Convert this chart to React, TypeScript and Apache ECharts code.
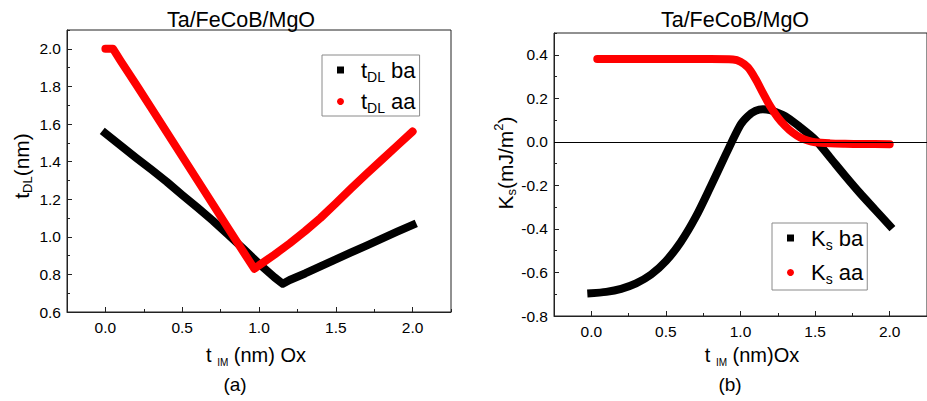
import React, { useEffect, useRef } from 'react';
import * as echarts from 'echarts';

const FONT = '"Liberation Sans", Arial, Helvetica, sans-serif';

// ---------- Panel (a): t_DL vs t_IM ----------
const tdlBaX = [0, 0.1, 0.2, 0.3, 0.4, 0.5, 0.6, 0.7, 0.8, 0.9, 1.0, 1.1, 1.155, 1.2, 1.3, 1.4, 1.5, 1.6, 1.7, 1.8, 1.9, 2.0];
const tdlBaY = [1.55, 1.485, 1.42, 1.357, 1.292, 1.222, 1.155, 1.085, 1.01, 0.935, 0.857, 0.785, 0.75, 0.77, 0.805, 0.843, 0.88, 0.917, 0.953, 0.99, 1.027, 1.063];

const tdlAaX = [0, 0.05, 0.1, 0.2, 0.3, 0.4, 0.5, 0.6, 0.7, 0.8, 0.9, 0.97, 1.0, 1.1, 1.2, 1.3, 1.4, 1.5, 1.6, 1.7, 1.8, 1.9, 2.0];
const tdlAaY = [2.0, 2.0, 1.935, 1.81, 1.683, 1.555, 1.428, 1.3, 1.172, 1.045, 0.918, 0.83, 0.848, 0.905, 0.965, 1.03, 1.1, 1.178, 1.258, 1.335, 1.41, 1.485, 1.56];

// ---------- Panel (b): K_s vs t_IM ----------
const ksBaX = [0, 0.1, 0.2, 0.3, 0.4, 0.5, 0.6, 0.7, 0.8, 0.9, 1.0, 1.05, 1.1, 1.15, 1.2, 1.3, 1.4, 1.5, 1.6, 1.7, 1.8, 1.9, 2.0];
const ksBaY = [-0.695, -0.689, -0.675, -0.65, -0.61, -0.548, -0.46, -0.345, -0.205, -0.06, 0.078, 0.118, 0.142, 0.15, 0.145, 0.118, 0.067, 0.01, -0.072, -0.155, -0.235, -0.31, -0.385];

const ksAaX = [0.04, 0.2, 0.4, 0.6, 0.8, 0.95, 1.0, 1.05, 1.1, 1.15, 1.2, 1.25, 1.3, 1.35, 1.4, 1.45, 1.5, 1.6, 1.7, 1.8, 1.9, 2.0];
const ksAaY = [0.38, 0.38, 0.38, 0.38, 0.38, 0.378, 0.368, 0.342, 0.29, 0.225, 0.163, 0.112, 0.073, 0.042, 0.02, 0.006, -0.002, -0.007, -0.009, -0.01, -0.01, -0.011];

const seriesNames = { tBa: 'tDL ba', tAa: 'tDL aa', kBa: 'Ks ba', kAa: 'Ks aa' };
const titleText = 'Ta/FeCoB/MgO';
const panelLabels = ['(a)', '(b)'];

const zip = (xs: number[], ys: number[]) => xs.map((x, i) => [x, ys[i]]);

const richStyles = (size: number, subSize: number) => ({
  m: { fontSize: size, fontFamily: FONT, color: '#000', fill: '#000', lineHeight: size + 5 },
  s: { fontSize: subSize, fontFamily: FONT, color: '#000', fill: '#000', lineHeight: subSize, verticalAlign: 'bottom' },
  p: { fontSize: subSize, fontFamily: FONT, color: '#000', fill: '#000', lineHeight: subSize, verticalAlign: 'top' },
});

const axisColor = '#222';
const fmt1 = (v: number) => v.toFixed(1);

function majorX(grid: number) {
  return {
    type: 'value', gridIndex: grid, min: -0.25, max: 2.25, splitNumber: 5, position: 'bottom',
    axisLine: { onZero: false, lineStyle: { color: axisColor, width: 1 } },
    axisTick: { inside: true, length: 5, lineStyle: { color: axisColor } },
    axisLabel: { showMinLabel: false, showMaxLabel: false, formatter: fmt1, fontSize: 15.5, fontFamily: FONT, color: '#000', margin: 7 },
    splitLine: { show: false },
  };
}
function minorX(grid: number) {
  return {
    type: 'value', gridIndex: grid, min: -0.25, max: 2.25, interval: 0.25, position: 'bottom',
    axisLine: { show: false, onZero: false },
    axisTick: { inside: true, length: 3, lineStyle: { color: axisColor } },
    axisLabel: { show: false },
    splitLine: { show: false },
  };
}
function majorY(grid: number, min: number, max: number) {
  return {
    type: 'value', gridIndex: grid, min, max, interval: 0.2, position: 'left',
    axisLine: { show: true, onZero: false, lineStyle: { color: axisColor, width: 1 } },
    axisTick: { show: true, inside: true, length: 5, lineStyle: { color: axisColor } },
    axisLabel: { showMaxLabel: false, formatter: fmt1, fontSize: 15.5, fontFamily: FONT, color: '#000', margin: 6 },
    splitLine: { show: false },
  };
}
function minorY(grid: number, min: number, max: number) {
  return {
    type: 'value', gridIndex: grid, min, max, interval: 0.1, position: 'left',
    axisLine: { show: false, onZero: false },
    axisTick: { show: true, inside: true, length: 3, lineStyle: { color: axisColor } },
    axisLabel: { show: false },
    splitLine: { show: false },
  };
}

const legendFormatter = (name: string) => {
  const [a, b] = name.split(' ');
  return `{m|${a[0]}}{s|${a.slice(1)}}{m| ${b}}`;
};

function legendAt(left: number, top: number, names: string[], gap: number, pad: number[]) {
  return {
    show: true, orient: 'vertical', left, top, selectedMode: false,
    data: [{ name: names[0], icon: 'rect' }, { name: names[1], icon: 'circle' }],
    itemWidth: 7, itemHeight: 7, itemGap: gap,
    padding: pad, borderColor: '#8a8a8a', borderWidth: 1, backgroundColor: '#fff',
    formatter: legendFormatter,
    textStyle: { padding: [0, 0, 0, 12], rich: richStyles(22, 14) },
  };
}

function lineSeries(name: string, data: number[][], color: string, xi: number, yi: number, cap: string, smooth: boolean | number) {
  return {
    type: 'line', name, data, xAxisIndex: xi, yAxisIndex: yi, color,
    showSymbol: false, symbol: 'none', smooth,
    lineStyle: { color, width: 8, cap, join: 'round' },
    z: 3,
  };
}

export default function App() {
  const ref = useRef<HTMLDivElement>(null);
  useEffect(() => {
    if (!ref.current) return;
    const chart = echarts.init(ref.current, undefined, { renderer: 'svg' });
    const option = {
      animation: false,
      backgroundColor: '#fff',
      grid: [
        { left: 67, top: 30, width: 384, height: 282, show: true, borderColor: axisColor, borderWidth: 1, backgroundColor: 'transparent' },
        { left: 554, top: 33, width: 385, height: 283, show: true, borderColor: axisColor, borderWidth: 1, backgroundColor: 'transparent' },
      ],
      xAxis: [majorX(0), minorX(0), majorX(1), minorX(1)],
      yAxis: [majorY(0, 0.6, 2.1), minorY(0, 0.6, 2.1), majorY(1, -0.8, 0.5), minorY(1, -0.8, 0.5)],
      legend: [
        legendAt(322, 55, [seriesNames.tBa, seriesNames.tAa], 7, [4, 4, 1, 15]),
        legendAt(772, 223, [seriesNames.kBa, seriesNames.kAa], 10, [4, 4, 4, 15]),
      ],
      series: [
        lineSeries(seriesNames.tBa, zip(tdlBaX, tdlBaY), '#000000', 0, 0, 'square', false),
        lineSeries(seriesNames.tAa, zip(tdlAaX, tdlAaY), '#ff0000', 0, 0, 'round', false),
        {
          type: 'line', name: 'zero', data: [], xAxisIndex: 2, yAxisIndex: 2, z: 1, silent: true,
          markLine: {
            silent: true, symbol: ['none', 'none'], label: { show: false },
            lineStyle: { color: '#000', width: 1, type: 'solid' },
            data: [{ yAxis: 0 }],
          },
        },
        lineSeries(seriesNames.kBa, zip(ksBaX, ksBaY), '#000000', 2, 2, 'square', 0.3),
        lineSeries(seriesNames.kAa, zip(ksAaX, ksAaY), '#ff0000', 2, 2, 'round', 0.3),
      ],
      graphic: [
        { type: 'text', x: 241, y: 20, style: { text: titleText, fontSize: 21.5, fontFamily: FONT, fill: '#000', align: 'center', verticalAlign: 'middle' } },
        { type: 'text', x: 735, y: 20, style: { text: titleText, fontSize: 21.5, fontFamily: FONT, fill: '#000', align: 'center', verticalAlign: 'middle' } },
        { type: 'text', x: 21, y: 166, rotation: Math.PI / 2, style: { text: '{m|t}{s|DL}{m|(nm)}', fill: '#000', rich: richStyles(21, 13), align: 'center', verticalAlign: 'middle' } },
        { type: 'text', x: 505, y: 163, rotation: Math.PI / 2, style: { text: '{m|K}{s|s}{m|(mJ/m}{p|2}{m|)}', fill: '#000', rich: richStyles(21, 13), align: 'center', verticalAlign: 'middle' } },
        { type: 'text', x: 256, y: 355, style: { text: '{m|t }{s|IM}{m| (nm) Ox}', fill: '#000', rich: richStyles(20, 10), align: 'center', verticalAlign: 'middle' } },
        { type: 'text', x: 752, y: 355, style: { text: '{m|t }{s|IM}{m| (nm)Ox}', fill: '#000', rich: richStyles(20, 10), align: 'center', verticalAlign: 'middle' } },
        { type: 'text', x: 235, y: 384, style: { text: panelLabels[0], fontSize: 19, fontFamily: FONT, fill: '#000', align: 'center', verticalAlign: 'middle' } },
        { type: 'text', x: 730, y: 384, style: { text: panelLabels[1], fontSize: 19, fontFamily: FONT, fill: '#000', align: 'center', verticalAlign: 'middle' } },
      ],
    };
    chart.setOption(option as any);
    return () => chart.dispose();
  }, []);
  return <div ref={ref} style={{ position: 'fixed', left: 0, top: 0, width: 927, height: 401, overflow: 'hidden' }} />;
}
